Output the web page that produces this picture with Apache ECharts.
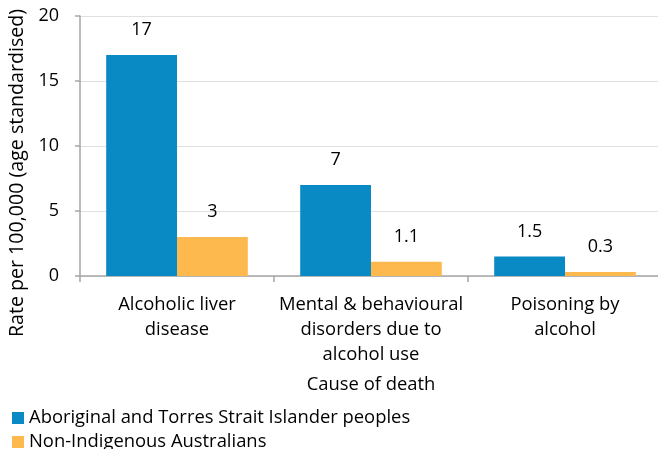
<!DOCTYPE html>
<html><head><meta charset="utf-8">
<script src="https://cdn.jsdelivr.net/npm/echarts@6/dist/echarts.min.js"></script>
<style>html,body{margin:0;padding:0;background:#fff}#c{width:658px;height:449px}</style>
</head><body><div id="c"></div>
<script>
const categories = ["Alcoholic liver\ndisease", "Mental & behavioural\ndisorders due to\nalcohol use", "Poisoning by\nalcohol"];
const seriesNames = ["Aboriginal and Torres Strait Islander peoples", "Non-Indigenous Australians"];
const indigenous = [17, 7, 1.5];
const nonIndigenous = [3, 1.1, 0.3];
const yTicks = [0, 5, 10, 15, 20];

const font = "Open Sans";
const legendText = {fontFamily: font, fontSize: 18.4, color: '#000'};
const chart = echarts.init(document.getElementById('c'), null, {renderer: 'canvas'});
chart.setOption({
  animation: false,
  textStyle: {fontFamily: font},
  grid: {left: 80, right: -4, top: 16, bottom: 173, containLabel: false, outerBoundsMode: 'none'},
  legend: [
    {left: 7, top: 404, itemWidth: 12, itemHeight: 12, icon: 'rect', itemGap: 0,
     textStyle: legendText, data: [seriesNames[0]]},
    {left: 7, top: 428, itemWidth: 12, itemHeight: 12, icon: 'rect', itemGap: 0,
     textStyle: legendText, data: [seriesNames[1]]}
  ],
  xAxis: {
    type: 'category', data: categories,
    name: 'Cause of death', nameLocation: 'middle', nameGap: 100,
    nameTextStyle: {fontFamily: font, fontSize: 18.4, color: '#000'},
    axisLine: {lineStyle: {color: '#a6a6a6', width: 1.5}},
    axisTick: {show: true, length: 6, lineStyle: {color: '#a6a6a6', width: 1.5}},
    axisLabel: {fontFamily: font, fontSize: 18.4, color: '#000', lineHeight: 25, margin: 16, interval: 0}
  },
  yAxis: {
    type: 'value', min: yTicks[0], max: yTicks[yTicks.length - 1], interval: 5,
    name: 'Rate per 100,000 (age standardised)', nameLocation: 'middle', nameGap: 53,
    nameTextStyle: {fontFamily: font, fontSize: 19.6, color: '#000', padding: [0, 54, 0, 0]},
    axisLine: {show: true, lineStyle: {color: '#a6a6a6', width: 1.5}},
    axisTick: {show: true, length: 5, lineStyle: {color: '#a6a6a6', width: 1.5}},
    axisLabel: {fontFamily: font, fontSize: 18, color: '#000', margin: 21},
    splitLine: {lineStyle: {color: '#e0e0e0', width: 1}}
  },
  series: [
    {name: seriesNames[0], type: 'bar', data: indigenous, barGap: '0%', barCategoryGap: '27%',
     itemStyle: {color: '#0a8ac4'},
     label: {show: true, position: 'top', distance: 16, fontFamily: font, fontSize: 18, color: '#000'}},
    {name: seriesNames[1], type: 'bar', data: nonIndigenous,
     itemStyle: {color: '#fdb94e'},
     label: {show: true, position: 'top', distance: 16, fontFamily: font, fontSize: 18, color: '#000'}}
  ]
});
</script></body></html>
